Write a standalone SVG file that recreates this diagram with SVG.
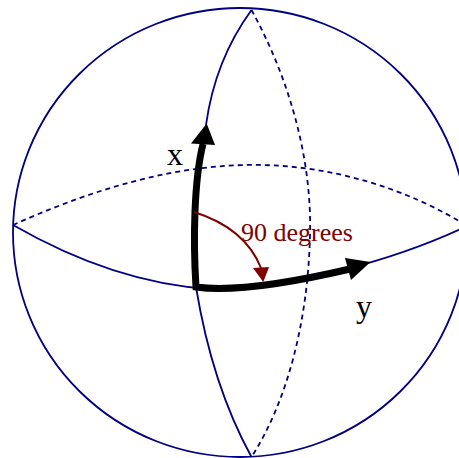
<svg xmlns="http://www.w3.org/2000/svg" width="459" height="458" viewBox="0 0 459 458">
<style>
.thin{fill:none;stroke:#000080;stroke-width:1.8}
.dash{fill:none;stroke:#000080;stroke-width:1.8;stroke-dasharray:5,4}
.thick{fill:none;stroke:#000;stroke-width:7;stroke-linejoin:miter}
.lbl{font-family:"Liberation Serif","Times New Roman",serif;fill:#000;font-size:32px}
.ang{font-family:"Liberation Serif","Times New Roman",serif;fill:#800000;font-size:26px}
</style>
<rect width="459" height="458" fill="#fff"/>
<g id="sphere">
<ellipse cx="240" cy="232.5" rx="227" ry="224.5" class="thin"/>
</g>
<g id="connectors">
<path id="equator-back" class="dash" d="M13,225 C80,195 160,167 245,165 C330,163 410,190 467,226"/>
<path id="meridian-back" class="dash" d="M251.5,10 C290,80 312,160 310,235 C308,320 288,400 251.5,457"/>
<path id="equator-front" class="thin" d="M13,225 C60,252 130,284 210,289 C290,290 400,258 467,226"/>
<path id="meridian-front" class="thin" d="M251.5,10 Q215,60 206,125 L203,144 C194,180 193,240 196,287 Q212,385 251.5,457"/>
<g id="axes">
<path class="thick" d="M203,144 C194,180 193,240 196,287 C230,292 290,283 350,269"/>
<polygon points="191,143.5 215,145 206.7,123.5" fill="#000"/>
<polygon points="345,258 351,280 370.5,262" fill="#000"/>
</g>
<g id="angle">
<path d="M194,212 Q245,228 261,268" fill="none" stroke="#800000" stroke-width="2"/>
<polygon points="253,268 269,267 263.3,282" fill="#800000"/>
</g>
</g>
<g id="labels">
<text class="lbl" x="167" y="165">x</text>
<text class="lbl" x="356" y="317">y</text>
<text class="ang" x="241" y="241">90 degrees</text>
</g>
</svg>
